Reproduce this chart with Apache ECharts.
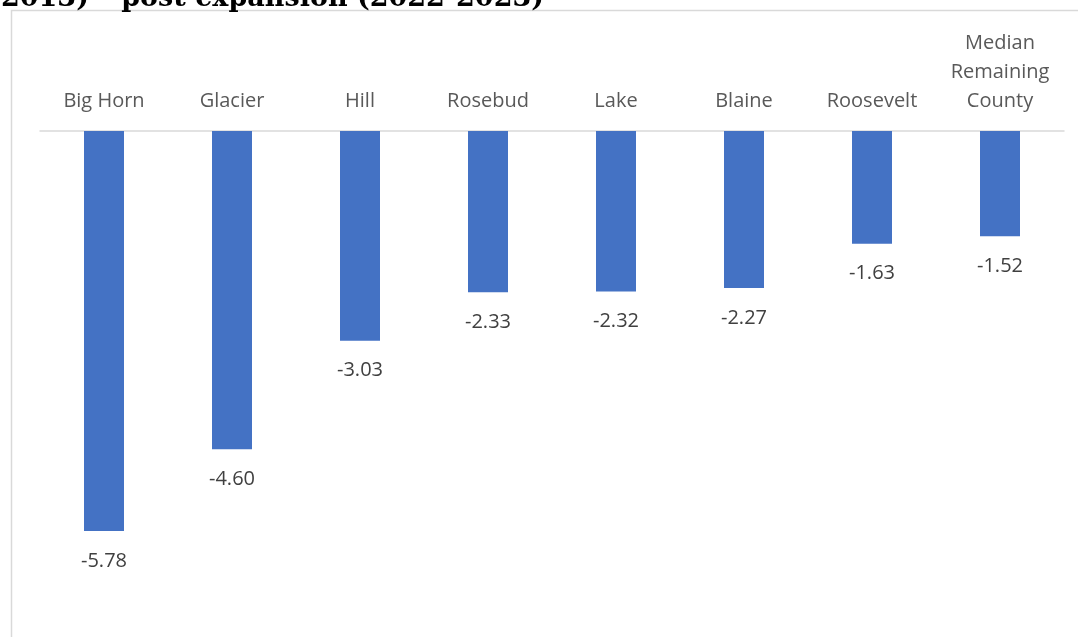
<!DOCTYPE html>
<html>
<head>
<meta charset="utf-8">
<script src="https://cdn.jsdelivr.net/npm/echarts@6/dist/echarts.min.js"></script>
<style>
html,body{margin:0;padding:0;background:#fff;}
#c{width:1078px;height:637px;}
</style>
</head>
<body>
<div id="c"></div>
<script>
const categories = ['Big Horn', 'Glacier', 'Hill', 'Rosebud', 'Lake', 'Blaine', 'Roosevelt', 'Median\nRemaining\nCounty'];
const values = [-5.78, -4.60, -3.03, -2.33, -2.32, -2.27, -1.63, -1.52];
const titleText = '2013) \u2013 post expansion (2022-2023)';

const chart = echarts.init(document.getElementById('c'));
chart.setOption({
  animation: false,
  backgroundColor: '#fff',
  graphic: [
    {
      type: 'rect', silent: true, z: -1,
      shape: {x: 11.5, y: 10.5, width: 1100, height: 700},
      style: {fill: 'none', stroke: '#d9d9d9', lineWidth: 1.5}
    },
    {
      type: 'text', left: 1, top: -15,
      style: {text: titleText, font: 'bold 27px "DejaVu Serif", serif', fill: '#000'}
    }
  ],
  grid: {left: 40, right: 14, top: 131, height: 484.4, containLabel: false},
  xAxis: {
    type: 'category', position: 'top', data: categories,
    axisLine: {show: true, onZero: false, lineStyle: {color: '#d9d9d9', width: 1.5}},
    axisTick: {show: false},
    axisLabel: {color: '#595959', fontFamily: 'Open Sans', fontSize: 20, lineHeight: 29, margin: 15, interval: 0}
  },
  yAxis: {
    type: 'value', min: -7, max: 0, interval: 1,
    show: false, splitLine: {show: false}
  },
  series: [{
    type: 'bar', data: values, barWidth: 40,
    itemStyle: {color: '#4472C4'},
    label: {
      show: true, position: 'bottom', distance: 20,
      formatter: p => p.value.toFixed(2),
      color: '#404040', fontFamily: 'Open Sans', fontSize: 20
    }
  }]
});
</script>
</body>
</html>
